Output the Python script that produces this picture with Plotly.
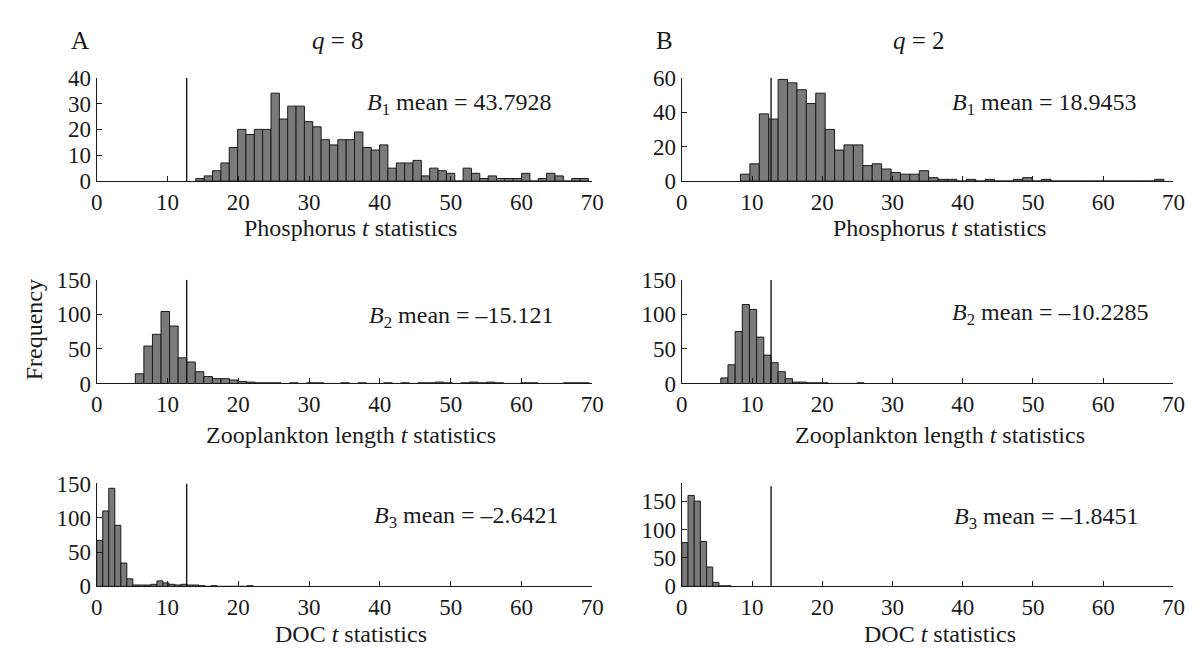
import numpy as np
import plotly.graph_objects as go

W, H = 1202, 651

# ---------------- data ----------------
# A (q = 8)
a1_start, a1_width = 14.0, 1.18
a1_counts = [1, 2, 4, 7, 13, 20, 18, 20, 20, 34, 24, 29, 29, 23, 21, 16, 14, 16, 16, 19,
             13, 12, 14, 5, 7, 7, 8, 2, 5, 4, 3, 0, 5, 3, 1, 2, 1, 1, 1, 3,
             0, 1, 3, 2, 0, 1, 1]
a2_start, a2_width = 5.45, 1.21
a2_counts = [14, 54, 71, 104, 83, 37, 31, 17, 10, 7, 7, 5, 3, 2, 1, 1, 1, 0, 1, 0,
             1, 1, 0, 0, 1, 0, 1, 0, 0, 1, 0, 1, 0, 1, 1, 2, 1, 0, 1, 2,
             1, 2, 1, 0, 0, 1, 1, 0, 0, 0, 1, 1, 1]
a3_start, a3_width = 0.0, 0.85
a3_counts = [67, 110, 143, 89, 34, 11, 2, 2, 2, 3, 8, 5, 3, 2, 3, 2, 2, 1, 0, 1,
             0, 0, 0, 0, 0, 1]
# B (q = 2)
b1_start, b1_width = 8.35, 1.34
b1_counts = [4, 10, 39, 36, 59, 57, 53, 45, 51, 30, 18, 21, 21, 9, 10, 7, 5, 4, 4, 6,
             2, 1, 1, 0, 1, 0, 1, 0, 0, 1, 2, 0, 1, 0, 0, 0, 0, 0, 0, 0,
             0, 0, 0, 0, 1]
b2_start, b2_width = 5.55, 1.02
b2_counts = [8, 27, 75, 114, 107, 67, 41, 30, 17, 7, 2, 2, 1, 1, 1, 0, 0, 0, 0, 1]
b3_start, b3_width = 0.0, 0.88
b3_counts = [77, 160, 150, 79, 34, 7, 1, 1]

critical_t = 12.706
x_ticks = [0, 10, 20, 30, 40, 50, 60, 70]

panel_titles = ["<i>q</i> = 8", "<i>q</i> = 2"]
panel_letters = ["A", "B"]
x_titles = ["Phosphorus <i>t</i> statistics",
            "Zooplankton length <i>t</i> statistics",
            "DOC <i>t</i> statistics"]
mean_labels = [
    "<i>B</i><sub>1</sub> mean = 43.7928",
    "<i>B</i><sub>2</sub> mean = \u201315.121",
    "<i>B</i><sub>3</sub> mean = \u20132.6421",
    "<i>B</i><sub>1</sub> mean = 18.9453",
    "<i>B</i><sub>2</sub> mean = \u201310.2285",
    "<i>B</i><sub>3</sub> mean = \u20131.8451",
]
y_ranges = [40, 150, 150, 60, 150, 181]
y_tickvals = [[0, 10, 20, 30, 40], [0, 50, 100, 150], [0, 50, 100, 150],
              [0, 20, 40, 60], [0, 50, 100, 150], [0, 50, 100, 150]]
line_tops = [40, 150, 150, 60, 150, 176]

panels = [
    (a1_start, a1_width, a1_counts),
    (a2_start, a2_width, a2_counts),
    (a3_start, a3_width, a3_counts),
    (b1_start, b1_width, b1_counts),
    (b2_start, b2_width, b2_counts),
    (b3_start, b3_width, b3_counts),
]

# ---------------- layout geometry (pixels) ----------------
col_px = [(84, 587), (678, 1177)]
row_px = [(60, 167.5), (270, 378), (482, 589)]

FONT = "Liberation Serif"
INK = "#1a1a1a"
BAR = "#7a7a7a"
TICK_SIZE = 23
TEXT_SIZE = 24

fig = go.Figure()
layout = dict(
    width=W, height=H, margin=dict(l=0, r=0, t=0, b=0),
    paper_bgcolor="white", plot_bgcolor="white", showlegend=False,
    font=dict(family=FONT, size=TEXT_SIZE, color=INK),
)

for i, (start, width, counts) in enumerate(panels):
    col, row = divmod(i, 3)
    n = i + 1
    xa = "x" if n == 1 else f"x{n}"
    ya = "y" if n == 1 else f"y{n}"
    counts = np.asarray(counts)
    centers = start + width * (np.arange(len(counts)) + 0.5)
    fig.add_trace(go.Bar(x=centers, y=counts, width=width, xaxis=xa, yaxis=ya,
                         marker=dict(color=BAR, line=dict(color=INK, width=1))))
    fig.add_trace(go.Scatter(x=[critical_t, critical_t], y=[0, line_tops[i]],
                             mode="lines", line=dict(color=INK, width=1.4),
                             xaxis=xa, yaxis=ya, hoverinfo="skip"))
    x0, x1 = col_px[col]
    y0, y1 = row_px[row]
    key_x = "xaxis" if n == 1 else f"xaxis{n}"
    key_y = "yaxis" if n == 1 else f"yaxis{n}"
    layout[key_x] = dict(domain=[x0 / W, x1 / W], range=[0, 70], anchor=ya,
                         tickvals=x_ticks, ticks="inside", ticklen=5, tickwidth=1.2,
                         tickcolor=INK, showline=True, linecolor=INK, linewidth=1.3,
                         showgrid=False, zeroline=False, ticklabelstandoff=0,
                         tickfont=dict(family=FONT, size=TICK_SIZE, color=INK))
    layout[key_y] = dict(domain=[1 - y1 / H, 1 - y0 / H], range=[0, y_ranges[i]],
                         anchor=xa, tickvals=y_tickvals[i], ticks="inside",
                         ticklen=5, tickwidth=1.2, tickcolor=INK, showline=True,
                         linecolor=INK, linewidth=1.3, showgrid=False, zeroline=False,
                         ticklabelstandoff=0,
                         tickfont=dict(family=FONT, size=TICK_SIZE, color=INK))

ann = []
def add_text(text, x, y, size=TEXT_SIZE, xanchor="center", angle=0):
    ann.append(dict(text=text, x=x / W, y=1 - y / H, xref="paper", yref="paper",
                    xanchor=xanchor, yanchor="middle", showarrow=False, textangle=angle,
                    font=dict(family=FONT, size=size, color=INK)))

add_text(panel_letters[0], 56, 21, size=25, xanchor="left")
add_text(panel_titles[0], 329, 21, size=25)
add_text(panel_letters[1], 650, 21, size=25, xanchor="left")
add_text(panel_titles[1], 919, 21, size=25)

title_y = [216, 432, 639]
for r in range(3):
    add_text(x_titles[r], 342, title_y[r])
    add_text(x_titles[r], 940, title_y[r])

mean_pos = [(356, 87), (358, 309), (363, 517), (950, 87), (950, 306), (952, 518)]
for lbl, (mx, my) in zip(mean_labels, mean_pos):
    add_text(lbl, mx, my, xanchor="left")

add_text("Frequency", 20, 322, angle=-90)

layout["annotations"] = ann
fig.update_layout(**layout)
fig.write_html("out.html")
